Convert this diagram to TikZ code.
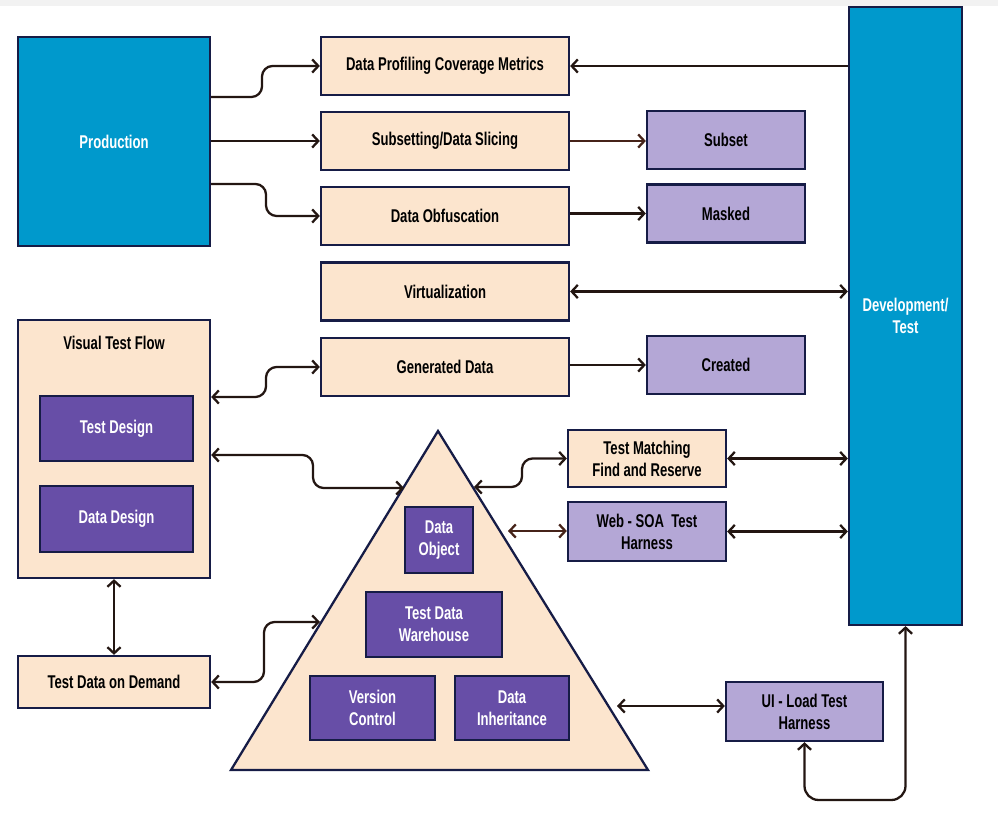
\documentclass[tikz,border=0pt]{standalone}
\usepackage{fontspec}
\setmainfont{Liberation Sans}[FakeStretch=0.71]
\usetikzlibrary{arrows.meta,calc}
\definecolor{prodblue}{RGB}{0,153,204}
\definecolor{tanfill}{RGB}{252,229,206}
\definecolor{lilac}{RGB}{180,167,214}
\definecolor{grape}{RGB}{103,78,167}
\definecolor{navy}{RGB}{22,28,70}
\definecolor{ink}{RGB}{35,22,18}
\definecolor{rust}{RGB}{70,35,25}
\tikzset{
  box/.style={draw=navy,line width=1.3pt,align=center,inner sep=2pt,
    font=\bfseries\fontsize{10.5}{12.5}\selectfont},
  bluebox/.style={box,fill=prodblue,text=white},
  tanbox/.style={box,fill=tanfill,text=black,minimum width=4.96cm,minimum height=1.16cm},
  lilacbox/.style={box,fill=lilac,text=black,minimum width=3.16cm,minimum height=1.16cm},
  grapebox/.style={box,fill=grape,text=white},
  barb/.tip={Straight Barb[length=3.5pt,width=7.5pt]},
  conn/.style={draw=ink,line width=1.3pt,rounded corners=6pt,-barb},
  dconn/.style={conn,barb-barb}
}
\begin{document}
\begin{tikzpicture}[x=0.02cm,y=-0.02cm]
\useasboundingbox (0,0) rectangle (998,834);
\fill[gray!10] (0,0) rectangle (998,6);

\node[bluebox,minimum width=3.84cm,minimum height=4.18cm] at (114,141.5) (prod) {Production};
\node[bluebox,minimum width=2.26cm,minimum height=12.36cm] at (905.5,316) (dev) {Development/\\Test};

\node[tanbox] at (445,66) (dpcm) {Data Profiling Coverage Metrics};
\node[tanbox] at (445,141) (ssl) {Subsetting/Data Slicing};
\node[tanbox] at (445,216) (obf) {Data Obfuscation};
\node[tanbox] at (445,291.5) (virt) {Virtualization};
\node[tanbox] at (445,367) (gd) {Generated Data};

\node[lilacbox] at (726,140) (subset) {Subset};
\node[lilacbox] at (726,213.5) (masked) {Masked};
\node[lilacbox] at (726,365) (created) {Created};

\node[box,fill=tanfill,minimum width=3.84cm,minimum height=5.16cm] at (114,449) (vtf) {};
\node[font=\bfseries\fontsize{10.5}{12.5}\selectfont] at (114,343) (vtftitle) {Visual Test Flow};
\node[grapebox,minimum width=3.06cm,minimum height=1.3cm] at (116.5,428.5) (tdes) {Test Design};
\node[grapebox,minimum width=3.06cm,minimum height=1.32cm] at (116.5,519) (ddes) {Data Design};
\node[box,fill=tanfill,minimum width=3.84cm,minimum height=1.04cm] at (114,682) (tdod) {Test Data on Demand};

\coordinate (apex) at (438,431);
\coordinate (bl) at (231,770);
\coordinate (br) at (648,770);
\draw[draw=navy,fill=tanfill,line width=1.3pt] (apex) -- (bl) -- (br) -- cycle;
\node[grapebox,minimum width=1.36cm,minimum height=1.32cm] at (439,540) (dobj) {Data\\Object};
\node[grapebox,minimum width=2.72cm,minimum height=1.3cm] at (434,624.5) (tdw) {Test Data\\Warehouse};
\node[grapebox,minimum width=2.5cm,minimum height=1.28cm] at (372.5,708) (vc) {Version\\Control};
\node[grapebox,minimum width=2.28cm,minimum height=1.28cm] at (512,708) (dinh) {Data\\Inheritance};

\node[box,fill=tanfill,minimum width=3.16cm,minimum height=1.14cm] at (647,458.5) (tm) {Test Matching\\Find and Reserve};
\node[lilacbox,minimum height=1.18cm] at (647,531.5) (web) {Web - SOA~ Test\\Harness};
\node[lilacbox,minimum width=3.14cm,minimum height=1.18cm] at (804.5,711.5) (ui) {UI - Load Test\\Harness};

\coordinate (tl1) at (404,488);
\coordinate (tl2) at (320,622);
\coordinate (tr1) at (474,487);
\coordinate (tr2) at (508,531);
\coordinate (tr3) at (617,706);

\draw[conn] (prod.east |- 0,97) -- (262,97) |- (dpcm.west);
\draw[conn] (prod.east |- ssl.west) -- (ssl.west);
\draw[conn] (prod.east |- 0,184) -- (266,184) |- (obf.west);
\draw[conn] (dev.west |- dpcm.east) -- (dpcm.east);
\draw[conn,draw=rust] (ssl.east) -- (subset.west |- ssl.east);
\draw[conn] (obf.east |- masked.west) -- (masked.west);
\draw[dconn] (virt.east) -- (dev.west |- virt.east);
\draw[conn] (gd.east |- created.west) -- (created.west);

\draw[dconn] (vtf.east |- 0,397) -- (266,397) |- (gd.west);
\draw[dconn] (vtf.east |- 0,455) -- (313,455) |- (tl1);
\draw[dconn] (vtf.south) -- (tdod.north);
\draw[dconn] (tdod.east) -- (264,682) |- (tl2);

\draw[dconn] (tr1) -- (522,487) |- (tm.west);
\draw[dconn,draw=rust] (tr2) -- (web.west |- tr2);
\draw[dconn] (tm.east) -- (dev.west |- tm.east);
\draw[dconn] (web.east) -- (dev.west |- web.east);
\draw[dconn] (tr3) -- (ui.west |- tr3);
\draw[dconn,rounded corners=8pt] (ui.south) -- (ui.south |- 0,800) -| (dev.south);
\end{tikzpicture}
\end{document}
